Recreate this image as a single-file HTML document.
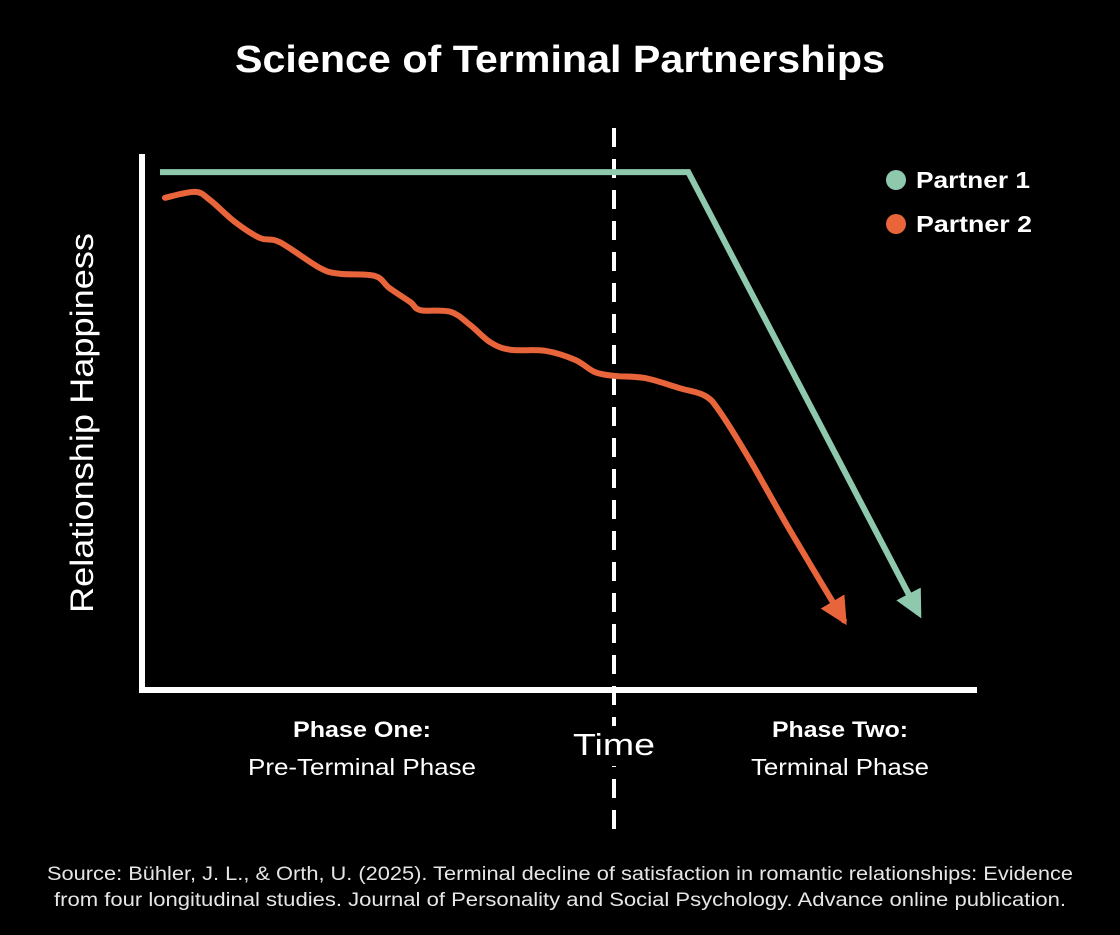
<!DOCTYPE html>
<html><head><meta charset="utf-8"><style>
html,body{margin:0;padding:0;background:#000;}
svg{display:block;font-family:"Liberation Sans",sans-serif;}
</style></head><body>
<svg width="1120" height="935" viewBox="0 0 1120 935">
<rect width="1120" height="935" fill="#000"/>
<defs>
<marker id="ag" viewBox="0 0 10 10" refX="8" refY="5" markerWidth="4.6" markerHeight="4.6" orient="auto" markerUnits="strokeWidth"><path d="M0,0 L10,5 L0,10 z" fill="#8fc9ad"/></marker>
<marker id="ao" viewBox="0 0 10 10" refX="8" refY="5" markerWidth="4.6" markerHeight="4.6" orient="auto" markerUnits="strokeWidth"><path d="M0,0 L10,5 L0,10 z" fill="#e8643a"/></marker>
</defs>
<text x="560" y="72" text-anchor="middle" fill="#fff" font-size="38" font-weight="bold" textLength="650" lengthAdjust="spacingAndGlyphs">Science of Terminal Partnerships</text>
<line x1="614" y1="128" x2="614" y2="832" stroke="#fff" stroke-width="4" stroke-dasharray="19,12"/>
<rect x="570" y="726" width="90" height="40" fill="#000"/>
<line x1="142" y1="154" x2="142" y2="690" stroke="#fff" stroke-width="6"/>
<line x1="139" y1="690" x2="977" y2="690" stroke="#fff" stroke-width="6"/>
<g id="series"></g>
<text x="93" y="423" transform="rotate(-90 93 423)" text-anchor="middle" fill="#fff" font-size="32" textLength="380" lengthAdjust="spacingAndGlyphs">Relationship Happiness</text>
<text x="614" y="755" text-anchor="middle" fill="#fff" font-size="31" textLength="82" lengthAdjust="spacingAndGlyphs">Time</text>
<text x="362" y="737" text-anchor="middle" fill="#fff" font-size="22" font-weight="bold" textLength="138" lengthAdjust="spacingAndGlyphs">Phase One:</text>
<text x="362" y="775" text-anchor="middle" fill="#fff" font-size="23" textLength="228" lengthAdjust="spacingAndGlyphs">Pre-Terminal Phase</text>
<text x="840" y="737" text-anchor="middle" fill="#fff" font-size="22" font-weight="bold" textLength="136" lengthAdjust="spacingAndGlyphs">Phase Two:</text>
<text x="840" y="775" text-anchor="middle" fill="#fff" font-size="23" textLength="178" lengthAdjust="spacingAndGlyphs">Terminal Phase</text>
<g>
<circle cx="896" cy="180" r="10" fill="#8fc9ad"/>
<text x="916" y="188" fill="#fff" font-size="23" font-weight="bold" textLength="114" lengthAdjust="spacingAndGlyphs">Partner 1</text>
<circle cx="896" cy="224" r="10" fill="#e8643a"/>
<text x="916" y="232" fill="#fff" font-size="23" font-weight="bold" textLength="116" lengthAdjust="spacingAndGlyphs">Partner 2</text>
</g>
<text x="560" y="880" text-anchor="middle" fill="#e6e6e6" font-size="19" textLength="1026" lengthAdjust="spacingAndGlyphs">Source: Bühler, J. L., &amp; Orth, U. (2025). Terminal decline of satisfaction in romantic relationships: Evidence</text>
<text x="560" y="906" text-anchor="middle" fill="#e6e6e6" font-size="19" textLength="1012" lengthAdjust="spacingAndGlyphs">from four longitudinal studies. Journal of Personality and Social Psychology. Advance online publication.</text>
</svg>
<script>
const p1Time = [1.8, 65.3, 93.0];
const p1Happy = [96.8, 96.8, 14.3];
const p2Time = [2.4, 6.0, 7.8, 10.8, 13.8, 16.2, 21.0, 23.4, 27.6, 29.4, 31.9, 33.1, 36.7, 39.1, 41.5, 43.9, 48.1, 51.7, 54.1, 56.5, 60.1, 64.3, 67.3, 69.1, 72.7, 77.5, 84.0];
const p2Happy = [92.0, 93.1, 91.6, 87.5, 84.5, 83.7, 78.9, 77.8, 77.4, 75.1, 72.5, 71.0, 70.7, 68.2, 65.0, 63.6, 63.4, 61.7, 59.4, 58.7, 58.3, 56.4, 55.0, 52.0, 43.0, 29.9, 13.0];
const X = t => 145 + t * 8.32;
const Y = v => 690 - v * 5.35;
const NS = "http://www.w3.org/2000/svg";
const g = document.getElementById('series');
function smooth(pts){
  let d = `M${pts[0][0]},${pts[0][1]}`;
  for(let i=0;i<pts.length-1;i++){
    const p0=pts[Math.max(0,i-1)],p1=pts[i],p2=pts[i+1],p3=pts[Math.min(pts.length-1,i+2)];
    const c1=[p1[0]+(p2[0]-p0[0])/6,p1[1]+(p2[1]-p0[1])/6];
    const c2=[p2[0]-(p3[0]-p1[0])/6,p2[1]-(p3[1]-p1[1])/6];
    d+=` C${c1[0]},${c1[1]} ${c2[0]},${c2[1]} ${p2[0]},${p2[1]}`;
  }
  return d;
}
const g1 = document.createElementNS(NS,'polyline');
g1.setAttribute('points', p1Time.map((t,i)=>X(t)+','+Y(p1Happy[i])).join(' '));
g1.setAttribute('fill','none');g1.setAttribute('stroke','#8fc9ad');g1.setAttribute('stroke-width','6');
g1.setAttribute('marker-end','url(#ag)');


g.appendChild(g1);
const g2 = document.createElementNS(NS,'path');
g2.setAttribute('d', smooth(p2Time.map((t,i)=>[X(t),Y(p2Happy[i])])));
g2.setAttribute('fill','none');g2.setAttribute('stroke','#e8643a');g2.setAttribute('stroke-width','6');
g2.setAttribute('stroke-linecap','round');
g2.setAttribute('marker-end','url(#ao)');


g.appendChild(g2);
</script>
</body></html>
